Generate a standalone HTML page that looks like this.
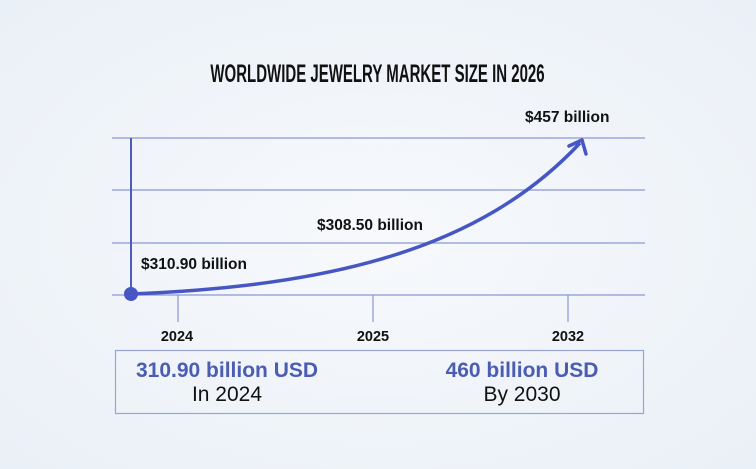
<!DOCTYPE html>
<html><head><meta charset="utf-8"><style>
html,body{margin:0;padding:0}
body{width:756px;height:469px;overflow:hidden;background:radial-gradient(ellipse at 50% 50%,#f7f9fc 0%,#eaf0f7 100%);font-family:"Liberation Sans",sans-serif;position:relative}
.t{position:absolute;white-space:nowrap}
.y{width:80px;text-align:center;top:329px;font-size:14.5px;font-weight:bold;color:#111}
</style></head><body>
<svg width="756" height="469" style="position:absolute;left:0;top:0">
<g stroke="#8a97d4" stroke-width="1.2">
<line x1="112" y1="138" x2="645" y2="138"/>
<line x1="112" y1="190" x2="645" y2="190"/>
<line x1="112" y1="243" x2="645" y2="243"/>
<line x1="112" y1="295" x2="645" y2="295"/>
<line x1="178" y1="295" x2="178" y2="322"/>
<line x1="373" y1="295" x2="373" y2="322"/>
<line x1="568" y1="295" x2="568" y2="322"/>
</g>
<line x1="131" y1="138" x2="131" y2="294" stroke="#4a5cc0" stroke-width="2"/>
<path d="M131,294 C330,286 480,250 580,143" fill="none" stroke="#4656c2" stroke-width="3.5"/>
<path d="M569,146 L582,140 L586,154" fill="none" stroke="#4656c2" stroke-width="3.5" stroke-linecap="round" stroke-linejoin="round"/>
<circle cx="131" cy="294" r="7" fill="#4656c2"/>
<rect x="115.5" y="350.5" width="528" height="63" fill="none" stroke="#98a4d6" stroke-width="1.2"/>
</svg>
<div class="t" style="left:0;width:756px;text-align:center;top:60px;font-size:25px;font-weight:bold;color:#111"><span style="display:inline-block;transform:scaleX(0.6)">WORLDWIDE JEWELRY MARKET SIZE IN 2026</span></div>
<div class="t" style="left:525px;top:109px;font-size:15.5px;font-weight:bold;color:#111">$457 billion</div>
<div class="t" style="left:317px;top:217px;font-size:15.5px;font-weight:bold;color:#111">$308.50 billion</div>
<div class="t" style="left:141px;top:256px;font-size:15.5px;font-weight:bold;color:#111">$310.90 billion</div>
<div class="t y" style="left:137px">2024</div>
<div class="t y" style="left:333px">2025</div>
<div class="t y" style="left:528px">2032</div>
<div class="t" style="left:107px;width:240px;text-align:center;top:359px;font-size:21px;font-weight:bold;color:#4a5db3">310.90 billion USD</div>
<div class="t" style="left:107px;width:240px;text-align:center;top:383px;font-size:21px;color:#111">In 2024</div>
<div class="t" style="left:402px;width:240px;text-align:center;top:359px;font-size:21px;font-weight:bold;color:#4a5db3">460 billion USD</div>
<div class="t" style="left:402px;width:240px;text-align:center;top:383px;font-size:21px;color:#111">By 2030</div>
</body></html>
